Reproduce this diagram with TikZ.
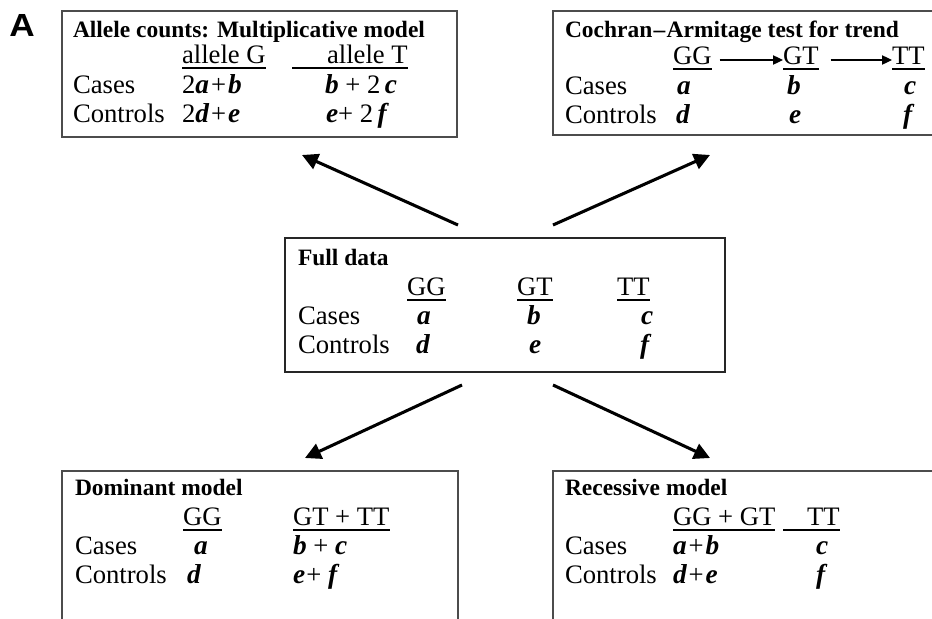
\documentclass[tikz,border=0pt]{standalone}
\usepackage{fontspec}
\setmainfont{Liberation Serif}
\newfontfamily\labelfont{Liberation Sans}[FakeStretch=1.1]
\usetikzlibrary{arrows.meta,calc}
\newcommand{\mv}[1]{{\fontsize{20.5pt}{23pt}\selectfont\bfseries\itshape #1}}
\tikzset{
  txt/.style={anchor=base west,inner sep=0pt,outer sep=0pt,font=\fontsize{20pt}{23pt}\selectfont},
  ttl/.style={anchor=base west,inner sep=0pt,outer sep=0pt,font=\fontsize{17.6pt}{20pt}\selectfont\bfseries},
  boxframe/.style={draw=black!70,line width=0.9pt},
  cbox/.style={draw=black!85,line width=1.9pt},
  bigarrow/.style={line width=2.3pt,-{Triangle[length=12pt,width=12pt]}},
  smallarrow/.style={line width=0.9pt,-{Triangle[length=7.5pt,width=7pt]}},
  ul/.style={line width=1pt}
}
\begin{document}
\begin{tikzpicture}[x=0.75pt,y=-0.75pt]
\useasboundingbox (0,0) rectangle (932,618);
\fill[white] (0,0) rectangle (932,618);

\node[anchor=base west,inner sep=0pt,font=\labelfont\bfseries\fontsize{24pt}{26pt}\selectfont] (lblA) at (9,36) {A};

% boxes
\draw[boxframe] (62,11) rectangle (457,137);
\draw[boxframe] (553,11) rectangle (950,135);
\draw[cbox] (285,238) rectangle (725,372);
\draw[boxframe] (62,471) rectangle (458,640);
\draw[boxframe] (553,471) rectangle (950,640);

% top-left box
\node[ttl] (t1) at (73,37) {Allele counts: Multiplicative model};
\node[txt] (alG) at (182,63) {allele G};
\node[txt] (alT) at (327,63) {allele T};
\draw[ul] ($(alG.base west)+(0,5)$) -- ($(alG.base east)+(0,5)$);
\coordinate (alTs) at (292,68);
\draw[ul] (alTs) -- ($(alT.base east)+(0,5)$);
\node[txt] (c1) at (73,93) {Cases};
\node[txt] (c1a) at (182,93) {2\mv{a}\kern1.5pt+\kern1.5pt\mv{b}};
\node[txt] (c1b) at (325,93) {\mv{b} + 2\,\mv{c}};
\node[txt] (k1) at (73,122) {Controls};
\node[txt] (k1a) at (182,122) {2\mv{d}\kern1.5pt+\kern1.5pt\mv{e}};
\node[txt] (k1b) at (326,122) {\mv{e}+ 2\,\mv{f}};

% top-right box
\node[ttl] (t2) at (565,37) {Cochran\kern1pt\textendash\kern1pt Armitage test for trend};
\node[txt] (gg2) at (673,64) {GG};
\node[txt] (gt2) at (783,64) {GT};
\node[txt] (tt2) at (892,64) {TT};
\foreach \n in {gg2,gt2,tt2}{\draw[ul] ($(\n.base west)+(0,5)$) -- ($(\n.base east)+(0,5)$);}
\draw[smallarrow] ($(gg2.base east)+(8,-4)$) -- ($(gt2.base west)+(0,-4)$);
\draw[smallarrow] ($(gt2.base east)+(12,-4)$) -- ($(tt2.base west)+(0,-4)$);
\node[txt] (c2) at (565,94) {Cases};
\node[txt] (c2a) at (677,94) {\mv{a}};
\node[txt] (c2b) at (787,94) {\mv{b}};
\node[txt] (c2c) at (904,94) {\mv{c}};
\node[txt] (k2) at (565,123) {Controls};
\node[txt] (k2a) at (676,123) {\mv{d}};
\node[txt] (k2b) at (789,123) {\mv{e}};
\node[txt] (k2c) at (903,123) {\mv{f}};

% center box
\node[ttl] (t3) at (298,265) {Full data};
\node[txt] (gg3) at (407,295) {GG};
\node[txt] (gt3) at (517,295) {GT};
\node[txt] (tt3) at (617,295) {TT};
\foreach \n in {gg3,gt3,tt3}{\draw[ul] ($(\n.base west)+(0,5)$) -- ($(\n.base east)+(0,5)$);}
\node[txt] (c3) at (298,324) {Cases};
\node[txt] (c3a) at (417,324) {\mv{a}};
\node[txt] (c3b) at (527,324) {\mv{b}};
\node[txt] (c3c) at (641,324) {\mv{c}};
\node[txt] (k3) at (298,353) {Controls};
\node[txt] (k3a) at (416,353) {\mv{d}};
\node[txt] (k3b) at (529,353) {\mv{e}};
\node[txt] (k3c) at (640,353) {\mv{f}};

% bottom-left box
\node[ttl] (t4) at (75,495) {Dominant model};
\node[txt] (gg4) at (183,525) {GG};
\node[txt] (gt4) at (293,525) {GT + TT};
\foreach \n in {gg4,gt4}{\draw[ul] ($(\n.base west)+(0,5)$) -- ($(\n.base east)+(0,5)$);}
\node[txt] (c4) at (75,554) {Cases};
\node[txt] (c4a) at (194,554) {\mv{a}};
\node[txt] (c4b) at (293,554) {\mv{b} + \mv{c}};
\node[txt] (k4) at (75,583) {Controls};
\node[txt] (k4a) at (187,583) {\mv{d}};
\node[txt] (k4b) at (293,583) {\mv{e}\kern1pt+ \mv{f}};

% bottom-right box
\node[ttl] (t5) at (565,495) {Recessive model};
\node[txt] (gg5) at (673,525) {GG + GT};
\node[txt] (tt5) at (807,525) {TT};
\draw[ul] ($(gg5.base west)+(0,5)$) -- ($(gg5.base east)+(0,5)$);
\coordinate (tt5s) at (783,530);
\draw[ul] (tt5s) -- ($(tt5.base east)+(0,5)$);
\node[txt] (c5) at (565,554) {Cases};
\node[txt] (c5a) at (673,554) {\mv{a}\kern1.5pt+\kern1.5pt\mv{b}};
\node[txt] (c5b) at (816,554) {\mv{c}};
\node[txt] (k5) at (565,583) {Controls};
\node[txt] (k5a) at (673,583) {\mv{d}\kern1.5pt+\kern1.5pt\mv{e}};
\node[txt] (k5b) at (816,583) {\mv{f}};

% big arrows
\coordinate (a1s) at (458,225); \coordinate (a1e) at (302,155);
\coordinate (a2s) at (553,225); \coordinate (a2e) at (710,155);
\coordinate (a3s) at (462,385); \coordinate (a3e) at (305,458);
\coordinate (a4s) at (553,385); \coordinate (a4e) at (710,458);
\draw[bigarrow] (a1s) -- (a1e);
\draw[bigarrow] (a2s) -- (a2e);
\draw[bigarrow] (a3s) -- (a3e);
\draw[bigarrow] (a4s) -- (a4e);
\end{tikzpicture}
\end{document}
